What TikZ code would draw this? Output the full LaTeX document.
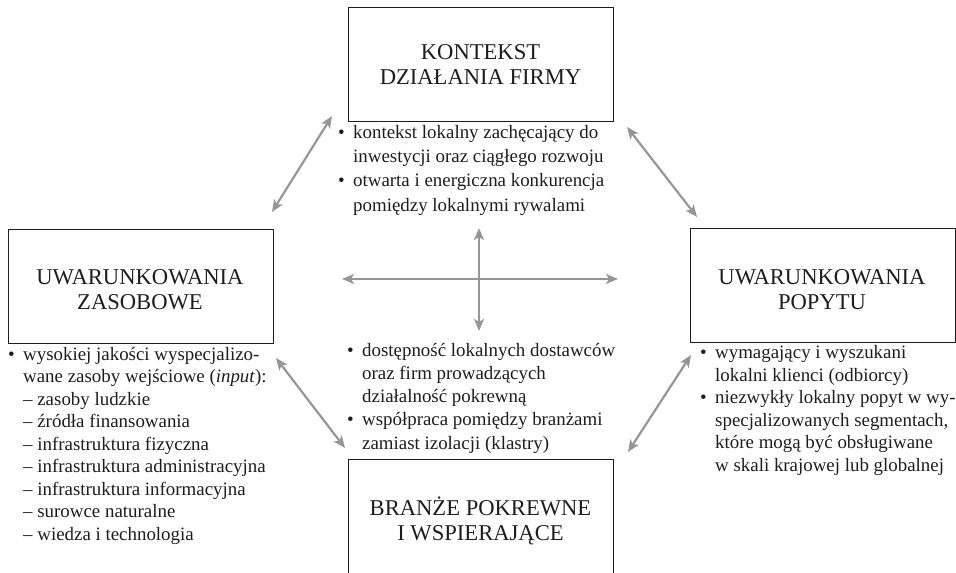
\documentclass[tikz,border=0pt]{standalone}
\usepackage{fontspec}
\setmainfont{Liberation Serif}
\usetikzlibrary{arrows.meta}

\definecolor{ink}{RGB}{30,28,28}
\definecolor{linkgray}{RGB}{150,150,150}

% multi-line nodes sit on the baseline of their last line
\tikzset{
  box/.style={draw=ink, line width=1.3pt, minimum width=265pt, minimum height=114pt,
              inner sep=0pt, anchor=north west},
  head/.style={font=\fontsize{22.6}{25}\selectfont, text=ink, anchor=base,
               inner sep=0pt, align=center},
  bullets/.style={font=\fontsize{18.9}{#1}\selectfont, text=ink, anchor=base west,
                  inner sep=0pt, align=left},
  link/.style={draw=linkgray, line width=2.2pt,
               {Stealth[length=12pt,width=10pt,inset=3pt]}-{Stealth[length=12pt,width=10pt,inset=3pt]}},
}
\newcommand{\itm}{\makebox[15pt][l]{•}}
\newcommand{\ind}{\hspace*{15pt}}

\begin{document}
\begin{tikzpicture}[x=1pt, y=-1pt]
  \useasboundingbox (0,0) rectangle (956,573);
  \clip (0,0) rectangle (956,573);

  % the four boxes of the diamond
  \node[box] (ctx) at (348,7) {};
  \node[box] (res) at (8,229) {};
  \node[box] (dem) at (690,228) {};
  \node[box, minimum height=130pt] (rel) at (348,459) {};

  % box titles
  \node[head] (ctx-t) at (480.5,84) {KONTEKST\\DZIAŁANIA FIRMY};
  \node[head] (res-t) at (140,309) {UWARUNKOWANIA\\ZASOBOWE};
  \node[head] (dem-t) at (822,309) {UWARUNKOWANIA\\POPYTU};
  \node[head] (rel-t) at (480.5,540) {BRANŻE POKREWNE\\I WSPIERAJĄCE};

  % descriptions
  \node[bullets=24.3pt] (ctx-l) at (338,211) {%
    \itm kontekst lokalny zachęcający do\\
    \ind inwestycji oraz ciągłego rozwoju\\
    \itm otwarta i energiczna konkurencja\\
    \ind pomiędzy lokalnymi rywalami};
  \node[bullets=22.5pt] (res-l) at (8,540) {%
    \itm wysokiej jakości wyspecjalizo-\\
    \ind wane zasoby wejściowe (\textit{input}):\\
    \ind – zasoby ludzkie\\
    \ind – źródła finansowania\\
    \ind – infrastruktura fizyczna\\
    \ind – infrastruktura administracyjna\\
    \ind – infrastruktura informacyjna\\
    \ind – surowce naturalne\\
    \ind – wiedza i technologia};
  \node[bullets=23.2pt] (rel-l) at (347,449) {%
    \itm dostępność lokalnych dostawców\\
    \ind oraz firm prowadzących\\
    \ind działalność pokrewną\\
    \itm współpraca pomiędzy branżami\\
    \ind zamiast izolacji (klastry)};
  \node[bullets=22.5pt] (dem-l) at (700,471) {%
    \itm wymagający i wyszukani\\
    \ind lokalni klienci (odbiorcy)\\
    \itm niezwykły lokalny popyt w wy-\\
    \ind specjalizowanych segmentach,\\
    \ind które mogą być obsługiwane\\
    \ind w skali krajowej lub globalnej};

  % ends of the two-way arrows
  \coordinate (tl-a) at (272,212);
  \coordinate (tl-b) at (332,116);
  \coordinate (tr-a) at (627,127);
  \coordinate (tr-b) at (697,217);
  \coordinate (bl-a) at (276,358);
  \coordinate (bl-b) at (345,448);
  \coordinate (br-a) at (691,355);
  \coordinate (br-b) at (628,452);
  \coordinate (h-a) at (342,279);
  \coordinate (h-b) at (618,279);
  \coordinate (v-a) at (479,228);
  \coordinate (v-b) at (479,331);

  \draw[link] (tl-a) -- (tl-b);
  \draw[link] (tr-a) -- (tr-b);
  \draw[link] (bl-a) -- (bl-b);
  \draw[link] (br-a) -- (br-b);
  \draw[link] (h-a) -- (h-b);
  \draw[link] (v-a) -- (v-b);
\end{tikzpicture}
\end{document}
